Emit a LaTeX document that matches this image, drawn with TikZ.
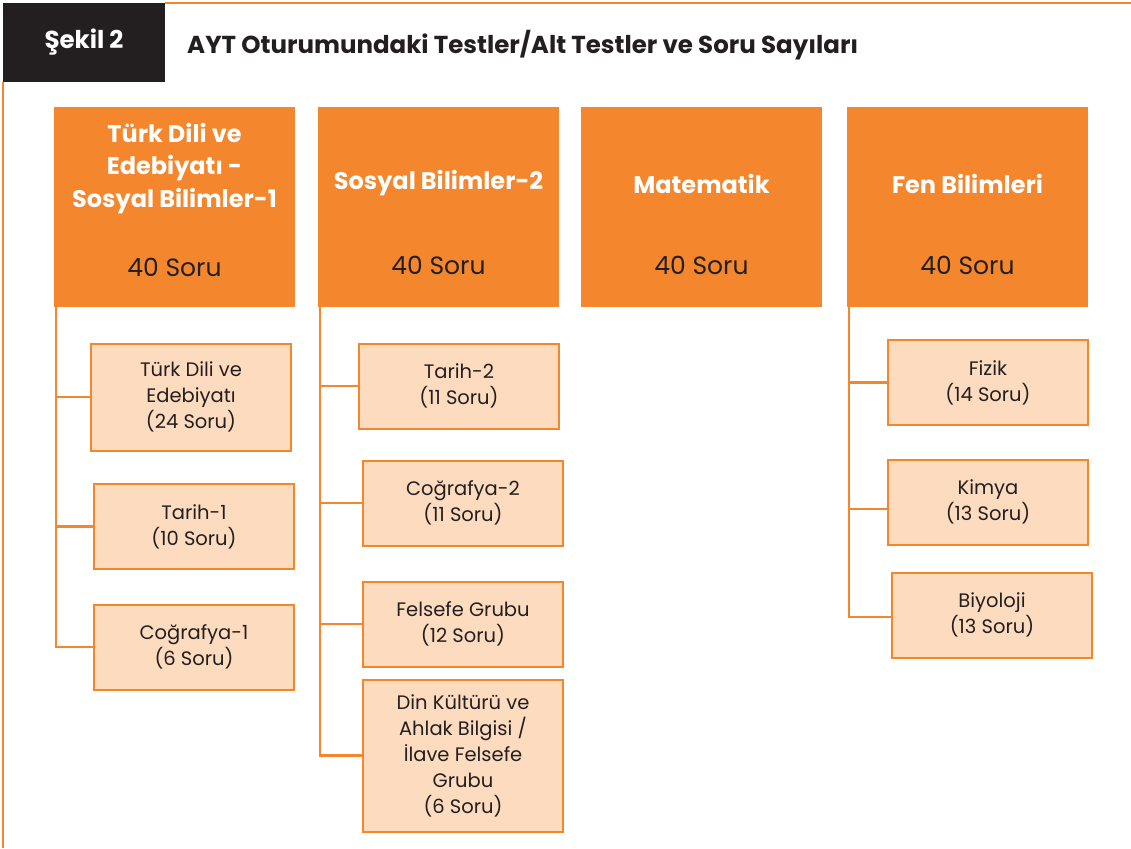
\documentclass[tikz,border=0pt]{standalone}
\usepackage{fontspec}
\setmainfont{Poppins}
\usetikzlibrary{positioning}
\definecolor{turuncu}{HTML}{F4872E}
\definecolor{acik}{HTML}{FCDBBF}
\definecolor{koyu}{HTML}{231F20}

\begin{document}
\begin{tikzpicture}[x=1pt,y=-1pt,
                    hdr/.style={fill=turuncu,minimum width=241pt,minimum height=200pt,inner sep=0pt},
                    hdr title/.style={text=white,font=\fontsize{24}{32.5}\selectfont\bfseries,align=center},
                    hdr count/.style={text=koyu,font=\fontsize{25}{28}\selectfont},
                    sub node/.style={draw=turuncu,line width=2pt,fill=acik,minimum width=200pt,
                                     minimum height=85pt,inner sep=0pt,text=koyu,
                                     font=\fontsize{19.5}{26}\selectfont,align=center},
                    conn/.style={draw=turuncu,line width=2.5pt}]
  \useasboundingbox (0,0) rectangle (1131,848);
  % frame and caption
  \draw[turuncu,line width=2pt] (165,3) -- (1131,3);
  \draw[turuncu,line width=2pt] (3,82) -- (3,848);
  \node[fill=koyu,minimum width=162pt,minimum height=79pt,inner sep=0pt,text=white,
        font=\fontsize{24.5}{26}\selectfont\bfseries] (sekil) at (84,42.5) {Şekil 2};
  \node[anchor=west,inner sep=0pt,text=koyu,font=\fontsize{24.5}{26}\selectfont\bfseries]
        (baslik) at (187,45) {AYT Oturumundaki Testler/Alt Testler ve Soru Sayıları};

  % main tests
  \node[hdr] (h1) at (174.5,207) {};
  \node[hdr] (h2) at (438.5,207) {};
  \node[hdr] (h3) at (701.5,207) {};
  \node[hdr] (h4) at (967.5,207) {};
  \node[hdr title] (h1t) at (174.5,168.5) {Türk Dili ve\\Edebiyatı -\\Sosyal Bilimler-1};
  \node[hdr title] (h2t) at (438.5,183.5) {Sosyal Bilimler-2};
  \node[hdr title] (h3t) at (701.5,183.5) {Matematik};
  \node[hdr title] (h4t) at (967.5,183.5) {Fen Bilimleri};
  \node[hdr count] (h1c) at (174.5,267) {40 Soru};
  \node[hdr count] (h2c) at (438.5,265) {40 Soru};
  \node[hdr count] (h3c) at (701.5,265) {40 Soru};
  \node[hdr count] (h4c) at (967.5,265) {40 Soru};

  % sub tests
  \node[sub node,minimum height=107pt] (s11) at (191,397) {Türk Dili ve\\Edebiyatı\\(24 Soru)};
  \node[sub node] (s12) at (194,526.5) {Tarih-1\\(10 Soru)};
  \node[sub node] (s13) at (194,647) {Coğrafya-1\\(6 Soru)};
  \node[sub node] (s21) at (459,386) {Tarih-2\\(11 Soru)};
  \node[sub node] (s22) at (463,503) {Coğrafya-2\\(11 Soru)};
  \node[sub node] (s23) at (463,624) {Felsefe Grubu\\(12 Soru)};
  \node[sub node,minimum height=152pt] (s24) at (463,755.5)
        {Din Kültürü ve\\Ahlak Bilgisi /\\İlave Felsefe\\Grubu\\(6 Soru)};
  \node[sub node] (s41) at (988,382.5) {Fizik\\(14 Soru)};
  \node[sub node] (s42) at (988,502) {Kimya\\(13 Soru)};
  \node[sub node] (s43) at (992,615) {Biyoloji\\(13 Soru)};

  % connectors
  \coordinate (tr1) at ([xshift=2pt]h1.south west);
  \coordinate (tr2) at ([xshift=2pt]h2.south west);
  \coordinate (tr4) at ([xshift=2pt]h4.south west);
  \foreach \s in {s11,s12,s13} \draw[conn] (tr1) |- (\s.west);
  \foreach \s in {s21,s22,s23,s24} \draw[conn] (tr2) |- (\s.west);
  \draw[conn] (tr4) |- (s41.west);
  \draw[conn] (tr4) |- ([yshift=-7pt]s42.west);
  \draw[conn] (tr4) |- ([yshift=-2pt]s43.west);
\end{tikzpicture}
\end{document}
